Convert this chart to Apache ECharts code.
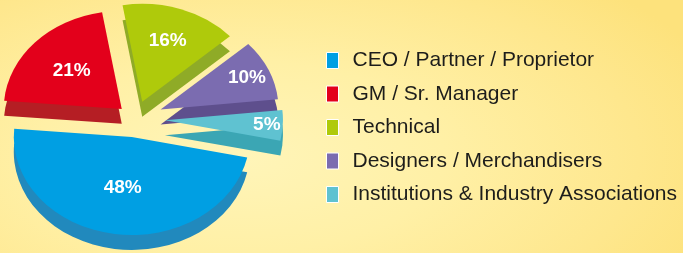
<!DOCTYPE html>
<html><head><meta charset="utf-8">
<script src="https://cdn.jsdelivr.net/npm/echarts@6.0.0/dist/echarts.min.js"></script>
<style>
html,body{margin:0;padding:0;background:#fee98f;}
#wrap{position:relative;width:683px;height:253px;overflow:hidden;
  background: radial-gradient(ellipse 75% 95% at 35% 62%, #fff5b9 0%, #fff0a6 40%, #fee78d 78%, #fde27c 100%);}
#pie{position:absolute;left:0;top:0;width:683px;height:305px;transform:scaleY(0.83);transform-origin:0 0;}
#front{position:absolute;left:0;top:0;width:683px;height:253px;}
</style></head><body>
<div id="wrap"><div id="pie"></div><div id="front"></div></div>
<script>
// ---- data ----
const categories = ['CEO / Partner / Proprietor', 'GM / Sr. Manager', 'Technical', 'Designers / Merchandisers', 'Institutions & Industry Associations'];
const shares = [48, 21, 16, 10, 5];
// ---- styles ----
const topColors = ['#009fe3', '#e3001b', '#afca0b', '#7b6cb0', '#5fc2d1'];
const sideColors = ['#2189bd', '#b51e24', '#8fab27', '#5e4f8d', '#3ba6b4'];
const TILT = 0.83;                // vertical squash of the pie
const CX = 135, CYS = 119;        // pie centre on screen
const CY = CYS / TILT;            // pie centre before squash
const R = 118, THICK = 18, START = -12;
const explode = [22, 18, 22, 28, 30];
const labelInner = [0, 12, 31, 65, 80];

function sliceSeries(i, o) {
  return {
    type: 'pie', animation: false, silent: true,
    selectedMode: o.explode ? 'multiple' : false, selectedOffset: explode[i],
    startAngle: START, clockwise: true, avoidLabelOverlap: false,
    center: [CX, o.cy], radius: o.radius,
    label: {show: false}, labelLine: {show: false},
    emphasis: {disabled: true},
    labelLayout: o.labelLayout,
    data: categories.map((name, j) => ({
      name, value: shares[j], selected: !!o.explode && j === i,
      itemStyle: {color: j === i ? o.color : 'rgba(0,0,0,0)'},
      select: {itemStyle: {color: j === i ? o.color : 'rgba(0,0,0,0)'}},
      label: (o.label && j === i) ? {
        show: true, position: 'inside', formatter: '{c}%', color: '#ffffff', opacity: 1,
        fontFamily: 'Liberation Sans', fontWeight: 'bold', fontSize: 19
      } : {show: false}
    }))
  };
}

// pie body (squashed via CSS)
const pieChart = echarts.init(document.getElementById('pie'), null, {renderer: 'svg'});
const bodySeries = [];
categories.forEach((c, i) => bodySeries.push(sliceSeries(i, {cy: CY + THICK, radius: [0, R], color: sideColors[i], explode: true})));
categories.forEach((c, i) => bodySeries.push(sliceSeries(i, {cy: CY, radius: [0, R], color: topColors[i], explode: true})));
pieChart.setOption({animation: false, backgroundColor: 'transparent', series: bodySeries});

// labels + legend (not squashed); label moved along its slice direction
const placeLabel = function (p) {
  const r = p.labelRect;
  const lx = r.x + r.width / 2, ly = r.y + r.height / 2;
  const dx = lx - CX, dy = ly - CYS;
  const m = Math.sqrt(dx * dx + dy * dy) || 1;
  const t = m + explode[p.seriesIndex];
  return {x: CX + t * dx / m, y: CYS + TILT * t * dy / m, align: 'center', verticalAlign: 'middle'};
};
const front = echarts.init(document.getElementById('front'));
front.setOption({
  animation: false, backgroundColor: 'transparent',
  legend: {
    orient: 'vertical', left: 321, top: 45, selectedMode: false,
    icon: 'rect', itemWidth: 12, itemHeight: 16, itemGap: 12.5,
    textStyle: {fontFamily: 'Liberation Sans', fontSize: 21, color: '#1d1d1b', padding: [0, 0, 0, 9]},
    data: categories.map((name, i) => ({name, itemStyle: {color: topColors[i], borderColor: '#ffffff', borderWidth: 1}}))
  },
  series: categories.map((c, i) => sliceSeries(i, {cy: CYS, radius: [labelInner[i], R], color: 'rgba(0,0,0,0)', label: true, labelLayout: placeLabel}))
});
</script>
</body></html>
